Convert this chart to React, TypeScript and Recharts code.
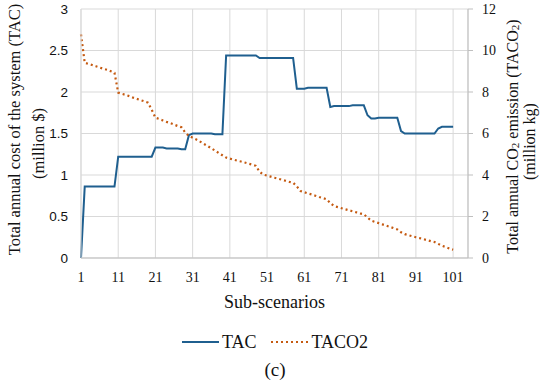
import React from 'react';
import { LineChart, Line, XAxis, YAxis, CartesianGrid, Legend, Label } from 'recharts';

// sub-scenario index 1..101
const scenarios = Array.from({ length: 101 }, (_, i) => i + 1);
const xTicks = [1, 11, 21, 31, 41, 51, 61, 71, 81, 91, 101];
const tacTicks = [0, 0.5, 1, 1.5, 2, 2.5, 3];
const co2Ticks = [0, 2, 4, 6, 8, 10, 12];

// Total annual cost (million $)
const tac = [
  0,
  0.86, 0.86, 0.86, 0.86, 0.86, 0.86, 0.86, 0.86, 0.86,
  1.22, 1.22, 1.22, 1.22, 1.22, 1.22, 1.22, 1.22, 1.22, 1.22,
  1.33, 1.33, 1.33, 1.32, 1.32, 1.32, 1.32, 1.31, 1.31,
  1.48,
  1.5, 1.5, 1.5, 1.5, 1.5, 1.5, 1.49, 1.49, 1.49,
  2.44, 2.44, 2.44, 2.44, 2.44, 2.44, 2.44, 2.44, 2.44,
  2.41, 2.41, 2.41, 2.41, 2.41, 2.41, 2.41, 2.41, 2.41, 2.41,
  2.04, 2.04, 2.04, 2.05, 2.05, 2.05, 2.05, 2.05, 2.05,
  1.82, 1.83, 1.83, 1.83, 1.83, 1.83, 1.84, 1.84, 1.84, 1.84,
  1.72,
  1.68, 1.68, 1.69, 1.69, 1.69, 1.69, 1.69, 1.69,
  1.53,
  1.5, 1.5, 1.5, 1.5, 1.5, 1.5, 1.5, 1.5, 1.5,
  1.56,
  1.58, 1.58, 1.58, 1.58,
];

// Total annual CO2 emission (million kg)
const taco2 = [
  10.78, 9.41,
  9.35, 9.3, 9.24, 9.18, 9.12, 9.07, 9.0, 8.93,
  7.97,
  7.91, 7.86, 7.8, 7.73, 7.67, 7.61, 7.55, 7.49,
  7.15, 6.76,
  6.7, 6.63, 6.56, 6.5, 6.43, 6.36, 6.3,
  6.05, 5.88,
  5.8, 5.71, 5.61, 5.5, 5.4, 5.29, 5.18, 5.06, 4.95, 4.84,
  4.79, 4.74, 4.69, 4.65, 4.6, 4.55, 4.5,
  4.44, 4.15, 4.02,
  3.97, 3.92, 3.87, 3.82, 3.77, 3.72, 3.67, 3.63,
  3.45, 3.23,
  3.17, 3.11, 3.06, 3.0, 2.94, 2.89, 2.83,
  2.65, 2.5,
  2.45, 2.4, 2.35, 2.3, 2.25, 2.2, 2.15, 2.11,
  1.95, 1.8,
  1.74, 1.68, 1.62, 1.56, 1.5, 1.44, 1.38,
  1.24, 1.15,
  1.1, 1.05, 1.0, 0.96, 0.91, 0.86, 0.81, 0.77,
  0.68, 0.59, 0.53, 0.46, 0.4,
];

const data = scenarios.map((s, i) => ({ s, tac: tac[i], taco2: taco2[i] }));

const SERIF = '"Liberation Serif", "DejaVu Serif", serif';
const SANS = '"Liberation Sans", Arial, sans-serif';
const TAC_COLOR = '#1f5f8f';
const CO2_COLOR = '#c55a11';
const GRID = '#d9d9d9';

const LeftTitle = (props: any) => {
  const { x, y, height } = props.viewBox;
  const c1 = y + height / 2 - 4;
  const c2 = y + height / 2 + 10;
  return (
    <g fontFamily={SERIF} fontSize={16.5} fill="#111">
      <text x={x + 14} y={c1} transform={`rotate(-90, ${x + 14}, ${c1})`} textAnchor="middle" dominantBaseline="central">
        Total annual cost of the system (TAC)
      </text>
      <text x={x + 38} y={c2} transform={`rotate(-90, ${x + 38}, ${c2})`} textAnchor="middle" dominantBaseline="central">
        (million $)
      </text>
    </g>
  );
};

const RightTitle = (props: any) => {
  const { x, y, height } = props.viewBox;
  const c1 = y + height / 2 + 3;
  const c2 = y + height / 2 + 8;
  return (
    <g fontFamily={SERIF} fontSize={16} fill="#111">
      <text x={x + 44} y={c1} transform={`rotate(-90, ${x + 44}, ${c1})`} textAnchor="middle" dominantBaseline="central">
        Total annual CO<tspan fontSize={11} dy={3}>2</tspan>
        <tspan dy={-3}> emission (TACO</tspan>
        <tspan fontSize={11} dy={3}>2</tspan>
        <tspan dy={-3}>)</tspan>
      </text>
      <text x={x + 61} y={c2} transform={`rotate(-90, ${x + 61}, ${c2})`} textAnchor="middle" dominantBaseline="central">
        (million kg)
      </text>
    </g>
  );
};

const BottomTitle = (props: any) => {
  const { x, y, width } = props.viewBox;
  return (
    <text x={x + width / 2} y={y + 44} textAnchor="middle" dominantBaseline="central" fontFamily={SERIF} fontSize={18} fill="#111">
      Sub-scenarios
    </text>
  );
};

const legendText: React.CSSProperties = { fontFamily: SERIF, fontSize: 18, color: '#111' };

const renderLegend = () => (
  <div style={{ height: 60, fontFamily: SERIF, color: '#111' }}>
    <div style={{ height: 30, display: 'flex', alignItems: 'center', justifyContent: 'center' }}>
      <svg width={37} height={6} style={{ marginRight: 3 }}>
        <line x1={0} y1={3} x2={37} y2={3} stroke={TAC_COLOR} strokeWidth={2} />
      </svg>
      <span style={legendText}>TAC</span>
      <svg width={37} height={6} style={{ marginLeft: 14, marginRight: 4 }}>
        <line x1={0} y1={3} x2={37} y2={3} stroke={CO2_COLOR} strokeWidth={2} strokeDasharray="2 3" />
      </svg>
      <span style={legendText}>TACO2</span>
    </div>
    <div style={{ ...legendText, height: 26, lineHeight: '26px', textAlign: 'center', fontSize: 19 }}>(c)</div>
  </div>
);

export default function App() {
  return (
    <div style={{ position: 'absolute', left: 0, top: 0, width: 550, height: 387, background: '#fff' }}>
      <LineChart width={550} height={387} data={data} margin={{ top: 9, right: 0, bottom: 0, left: 0 }}>
        <CartesianGrid yAxisId="left" stroke={GRID} strokeWidth={1} />
        <XAxis
          dataKey="s"
          type="number"
          domain={[1, 105]}
          ticks={xTicks}
          interval={0}
          height={69}
          tickLine={false}
          tickSize={6}
          tickMargin={8}
          axisLine={{ stroke: '#bfbfbf' }}
          tick={{ fontFamily: SERIF, fontSize: 14, fill: '#111' }}
        >
          <Label content={BottomTitle} />
        </XAxis>
        <YAxis
          yAxisId="left"
          domain={[0, 3]}
          ticks={tacTicks}
          interval={0}
          width={81}
          tickLine={false}
          tickSize={6}
          tickMargin={7}
          axisLine={{ stroke: GRID }}
          tick={{ fontFamily: SANS, fontSize: 13.5, fill: '#111' }}
        >
          <Label content={LeftTitle} />
        </YAxis>
        <YAxis
          yAxisId="right"
          orientation="right"
          domain={[0, 12]}
          ticks={co2Ticks}
          interval={0}
          width={82}
          tickSize={5}
          tickMargin={9}
          tickLine={{ stroke: '#bfbfbf' }}
          axisLine={{ stroke: '#bfbfbf' }}
          tick={{ fontFamily: SERIF, fontSize: 14, fill: '#111' }}
        >
          <Label content={RightTitle} />
        </YAxis>
        <Legend verticalAlign="bottom" content={renderLegend} />
        <Line
          yAxisId="left"
          type="linear"
          dataKey="tac"
          name="TAC"
          stroke={TAC_COLOR}
          strokeWidth={2}
          dot={false}
          isAnimationActive={false}
        />
        <Line
          yAxisId="right"
          type="linear"
          dataKey="taco2"
          name="TACO2"
          stroke={CO2_COLOR}
          strokeWidth={2.2}
          strokeDasharray="2 3"
          dot={false}
          isAnimationActive={false}
        />
      </LineChart>
    </div>
  );
}
